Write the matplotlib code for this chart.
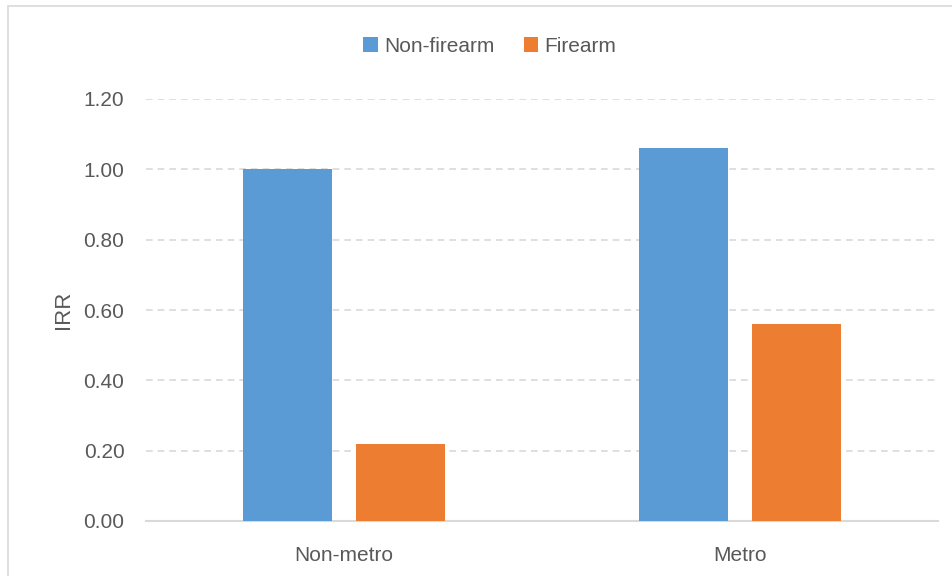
import matplotlib
matplotlib.use("Agg")
import matplotlib.pyplot as plt
from matplotlib.patches import Rectangle
import numpy as np

categories = ["Non-metro", "Metro"]
series_names = ["Non-firearm", "Firearm"]
non_firearm = [1.00, 1.06]
firearm = [0.22, 0.56]
y_ticks = [0.0, 0.2, 0.4, 0.6, 0.8, 1.0, 1.2]

blue = "#5B9BD5"
orange = "#ED7D31"
text_color = "#595959"
grid_color = "#D9D9D9"

plt.rcParams["font.family"] = ["Liberation Sans", "DejaVu Sans"]

fig = plt.figure(figsize=(9.52, 5.76), dpi=100)
W, H = 952, 576
ax = fig.add_axes([146 / W, 1 - 521 / H, (938 - 146) / W, (521 - 99) / H])

x = np.arange(len(categories))
width = 0.225
offset = 0.1425
ax.bar(x - offset, non_firearm, width, color=blue, label=series_names[0], zorder=3)
ax.bar(x + offset, firearm, width, color=orange, label=series_names[1], zorder=3)

ax.set_xlim(-0.5, 1.5)
ax.set_ylim(0, 1.2)
ax.set_yticks(y_ticks)
ax.set_yticklabels([f"{v:.2f}" for v in y_ticks])
ax.set_xticks(x)
ax.set_xticklabels(categories)

ax.yaxis.grid(True, linestyle=(0, (4, 3)), color=grid_color, linewidth=1.2, zorder=0)
ax.set_axisbelow(True)
for side in ["top", "right", "left"]:
    ax.spines[side].set_visible(False)
ax.spines["bottom"].set_color(grid_color)
ax.spines["bottom"].set_linewidth(1.5)
ax.tick_params(axis="both", length=0, labelsize=15, colors=text_color)
ax.tick_params(axis="y", pad=15.5)
ax.tick_params(axis="x", pad=18)
ax.set_ylabel("IRR", fontsize=16, color=text_color, labelpad=7)

leg = fig.legend(loc="center", bbox_to_anchor=(490 / W, 1 - 46 / H), ncol=2, frameon=False,
                 fontsize=15, handlelength=0.7, handleheight=0.7, handletextpad=0.3,
                 columnspacing=1.4)
for t in leg.get_texts():
    t.set_color(text_color)

# chart frame
fig.patches.append(Rectangle((8 / W, -0.01), 1.0, 1 - 6 / H + 0.01, transform=fig.transFigure,
                             fill=False, edgecolor="#D9D9D9", linewidth=1.2))

fig.savefig("out.png", dpi=100, facecolor="white")
